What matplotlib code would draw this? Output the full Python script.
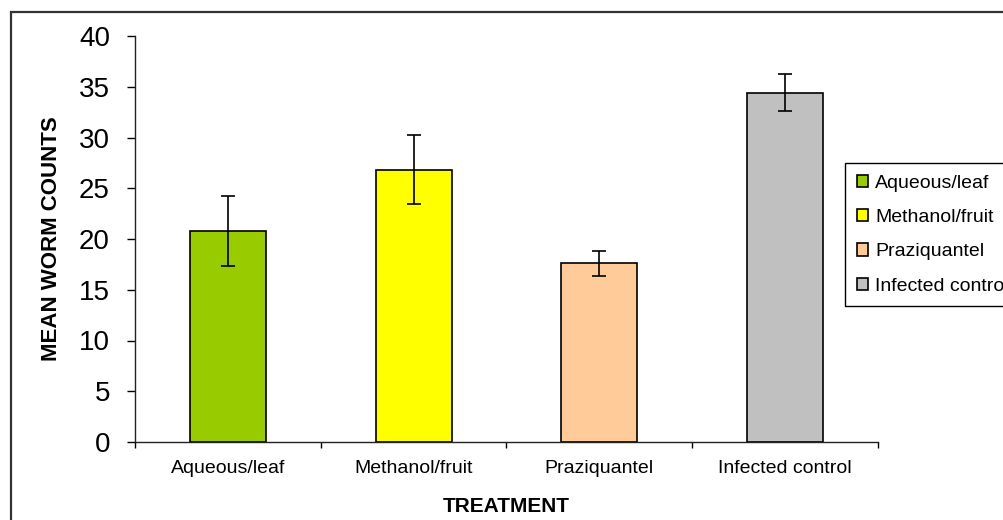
import numpy as np
import matplotlib
matplotlib.use("Agg")
import matplotlib.pyplot as plt
from matplotlib.patches import Patch, Rectangle

plt.rcParams["font.family"] = ["Liberation Sans", "DejaVu Sans"]

treatments = ["Aqueous/leaf", "Methanol/fruit", "Praziquantel", "Infected control"]
mean_counts = [20.8, 26.8, 17.6, 34.4]
sem = [3.45, 3.4, 1.26, 1.81]
colors = ["#99cc00", "#ffff00", "#ffcc99", "#c0c0c0"]
y_ticks = [0, 5, 10, 15, 20, 25, 30, 35, 40]

W, H = 1004, 520
fig = plt.figure(figsize=(W / 100, H / 100), dpi=100)
fig.patch.set_facecolor("white")

# outer chart frame (cropped on the right / bottom like the source)
fig.patches.append(Rectangle((11 / W, -0.2), 1.2, 1 - 12 / H + 0.2,
                             transform=fig.transFigure, fill=False,
                             edgecolor="#333333", lw=1.6, zorder=0))

ax = fig.add_axes([135 / W, 1 - 442 / H, (878 - 135) / W, (442 - 36) / H])
x = np.arange(len(treatments))
ax.bar(x, mean_counts, width=0.41, color=colors, edgecolor="black",
       linewidth=1.2, zorder=2)
ax.errorbar(x, mean_counts, yerr=sem, fmt="none", ecolor="black",
            elinewidth=1.2, capsize=5, capthick=1.2, zorder=3)

ax.set_xlim(-0.5, len(treatments) - 0.5)
ax.set_ylim(0, 40)
ax.set_yticks(y_ticks)
ax.tick_params(axis="y", labelsize=20, length=6, width=1, pad=12,
               direction="out")
ax.set_xticks(x)
ax.set_xticklabels(treatments)
ax.tick_params(axis="x", which="major", length=0, labelsize=14, pad=13)
ax.set_xticks(np.arange(len(treatments) + 1) - 0.5, minor=True)
ax.tick_params(axis="x", which="minor", length=4, width=1, direction="out")

for s in ("top", "right"):
    ax.spines[s].set_visible(False)
for s in ("left", "bottom"):
    ax.spines[s].set_linewidth(1)
    ax.spines[s].set_color("#222222")

ax.set_xlabel("TREATMENT", fontsize=15, fontweight="bold", labelpad=14)
ax.set_ylabel("MEAN WORM COUNTS", fontsize=16, fontweight="bold")
ax.yaxis.set_label_coords(-0.098, 0.5)

handles = [Patch(facecolor=c, edgecolor="black", lw=1.2) for c in colors]
leg = fig.legend(handles, treatments, loc="upper left",
                 bbox_to_anchor=(845 / W, 1 - 163 / H), fontsize=14,
                 frameon=True, fancybox=False, framealpha=1,
                 edgecolor="black", borderpad=0.6, labelspacing=0.89,
                 handlelength=0.6, handleheight=0.6, handletextpad=0.35,
                 borderaxespad=0)
leg.get_frame().set_linewidth(1)

fig.savefig("out.png", dpi=100)
